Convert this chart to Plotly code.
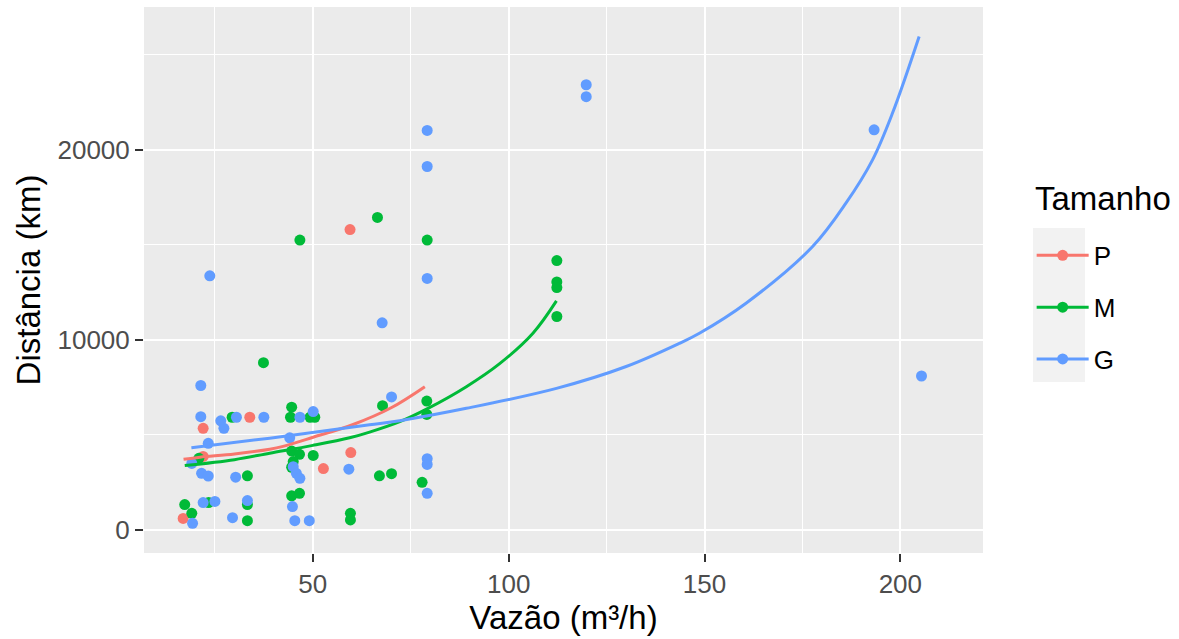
import plotly.graph_objects as go

# ---------------- data ----------------
P_x = [16.9, 22.0, 22.0, 33.9, 52.7, 59.5, 59.7]
P_y = [610, 5350, 3870, 5930, 3230, 15800, 4070]

M_x = [17.3, 19.1, 20.9, 23.4, 29.4, 33.3, 33.3, 33.3, 37.4, 44.6, 44.3, 44.6,
       46.6, 45.0, 44.6, 44.6, 46.6, 46.7, 49.3, 50.5, 50.1, 59.6, 59.6, 66.5,
       67.0, 67.8, 70.1, 77.9, 79.1, 79.1, 79.2, 112.3, 112.3, 112.3, 112.3]
M_y = [1340, 880, 3770, 1440, 5930, 2850, 1340, 490, 8800, 6460, 5930, 4150,
       3980, 3600, 3300, 1800, 1930, 15250, 5930, 5930, 3920, 880, 530, 16440,
       2850, 6540, 2960, 2510, 6780, 6080, 15250, 14170, 13050, 12750, 11230]

G_x = [19.3, 19.1, 21.4, 21.4, 21.6, 22.0, 23.3, 23.3, 23.7, 25.0, 26.5, 27.3,
       29.5, 30.5, 30.3, 33.3, 37.5, 44.1, 44.8, 45.4, 45.0, 45.8, 46.7, 46.7,
       49.1, 50.1, 59.2, 67.7, 70.1, 79.2, 79.2, 79.2, 79.2, 79.2, 79.2, 119.8,
       119.8, 193.3, 205.4]
G_y = [350, 3500, 7600, 5960, 2980, 1440, 4560, 2840, 13370, 1500, 5740, 5350,
       650, 5930, 2780, 1550, 5930, 4850, 1230, 490, 3330, 2980, 2720, 5930,
       490, 6230, 3200, 10900, 7000, 21020, 19120, 13230, 3750, 3450, 1930, 23420,
       22790, 21050, 8100]

# fitted curves
P_fit_x = [17, 21.2, 30, 39, 42.4, 50.1, 60.3, 70, 78.6]
P_fit_y = [3720, 3830, 4000, 4250, 4400, 4880, 5550, 6430, 7540]

M_fit_x = [17.3, 30, 39, 50, 59.4, 64.5, 72.2, 79.4, 89.2, 97.7, 106.2, 112.2]
M_fit_y = [3390, 3700, 4040, 4450, 4850, 5150, 5700, 6400, 7540, 8750, 10350, 12050]

G_fit_x = [19, 39, 64.5, 72.2, 89.2, 112.2, 130, 143.6, 148.7, 160.6, 177.6,
           186.1, 192.9, 198, 204.8]
G_fit_y = [4330, 4830, 5530, 5750, 6400, 7450, 8600, 9820, 10350, 11930, 14910,
           17190, 19470, 21930, 25960]

groups = ["P", "M", "G"]
colors = {"P": "#F8766D", "M": "#00BA38", "G": "#619CFF"}

X_TICKS = [50, 100, 150, 200]
X_TICK_LABELS = ["50", "100", "150", "200"]
X_MINOR = [25, 75, 125, 175]
Y_TICKS = [0, 10000, 20000]
Y_TICK_LABELS = ["0", "10000", "20000"]
Y_MINOR = [5000, 15000, 25000]

pts = {"P": (P_x, P_y), "M": (M_x, M_y), "G": (G_x, G_y)}
fits = {"P": (P_fit_x, P_fit_y), "M": (M_fit_x, M_fit_y), "G": (G_fit_x, G_fit_y)}

FONT = "Liberation Sans, Arial, sans-serif"
fig = go.Figure()

for g in groups:
    x, y = pts[g]
    fig.add_trace(go.Scatter(x=x, y=y, mode="markers", showlegend=False,
                             marker=dict(color=colors[g], size=11, line=dict(width=0)),
                             hoverinfo="skip"))
for g in groups:
    x, y = fits[g]
    fig.add_trace(go.Scatter(x=x, y=y, mode="lines", showlegend=False,
                             line=dict(color=colors[g], width=3, shape="spline"),
                             hoverinfo="skip"))
for g in groups:
    fig.add_trace(go.Scatter(x=[None], y=[None], mode="lines+markers", name=g,
                             legendgroup=g,
                             marker=dict(color=colors[g], size=11),
                             line=dict(color=colors[g], width=3)))

axis_common = dict(
    showgrid=True, gridcolor="white", gridwidth=2, zeroline=False, showline=False,
    ticks="outside", ticklen=8, tickwidth=1.5, tickcolor="#333333",
    tickfont=dict(family=FONT, size=26, color="#4D4D4D"),
)

fig.update_layout(
    width=1179, height=639, autosize=False,
    paper_bgcolor="white", plot_bgcolor="#EBEBEB",
    margin=dict(l=144, r=196, t=7, b=86, pad=0),
    font=dict(family=FONT, color="black"),
    xaxis=dict(range=[6.9, 221.1], tickmode="array", tickvals=X_TICKS,
               ticktext=X_TICK_LABELS,
               minor=dict(tickmode="array", tickvals=X_MINOR, showgrid=True,
                          gridcolor="white", gridwidth=1, ticks=""),
               title=dict(text="Vazão (m³/h)", font=dict(family=FONT, size=33, color="black"),
                          standoff=4),
               automargin=False, **axis_common),
    yaxis=dict(range=[-1210, 27510], tickmode="array", tickvals=Y_TICKS,
               ticktext=Y_TICK_LABELS,
               minor=dict(tickmode="array", tickvals=Y_MINOR, showgrid=True,
                          gridcolor="white", gridwidth=1, ticks=""),
               title=dict(text="Distância (km)", font=dict(family=FONT, size=33, color="black"),
                          standoff=6),
               automargin=False, **axis_common),
    legend=dict(x=1.058, xanchor="left", y=0.588, yanchor="top",
                font=dict(family=FONT, size=26, color="black"),
                bgcolor="rgba(0,0,0,0)", itemwidth=52, tracegroupgap=15,
                traceorder="grouped"),
    annotations=[dict(text="Tamanho", xref="paper", yref="paper", x=1.0596, y=0.650,
                      xanchor="left", yanchor="middle", showarrow=False,
                      font=dict(family=FONT, size=33, color="black"))],
    shapes=[dict(type="rect", xref="paper", yref="paper", x0=1.0596, x1=1.1216,
                 y0=0.3132, y1=0.5952, fillcolor="#F2F2F2", line=dict(width=0),
                 layer="below")],
)

fig.write_html("out.html", config={"displayModeBar": False},
               post_script="document.body.style.margin='0';document.body.style.overflow='hidden';")
